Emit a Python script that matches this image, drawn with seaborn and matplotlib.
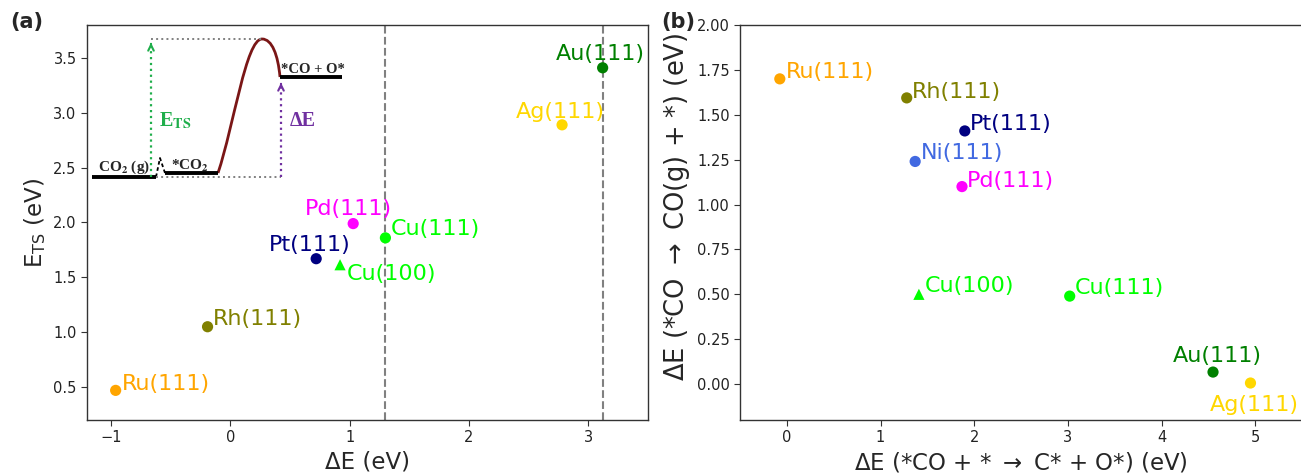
import numpy as np
import pandas as pd
import matplotlib
matplotlib.use("Agg")
import matplotlib.pyplot as plt
import seaborn as sns
from matplotlib.path import Path
from matplotlib.patches import PathPatch

# ---------------- data ----------------
# panel (a): E_TS vs reaction energy dE
a_surfaces = ["Ru(111)", "Rh(111)", "Pt(111)", "Cu(100)", "Pd(111)", "Cu(111)", "Ag(111)", "Au(111)"]
a_facets = ["111", "111", "111", "100", "111", "111", "111", "111"]
a_dE = [-0.96, -0.19, 0.72, 0.92, 1.03, 1.30, 2.78, 3.12]
a_ETS = [0.47, 1.05, 1.67, 1.615, 1.99, 1.86, 2.89, 3.41]
a_vlines = [1.30, 3.12]

# panel (b): CO desorption vs CO dissociation energy
b_surfaces = ["Ru(111)", "Rh(111)", "Pt(111)", "Ni(111)", "Pd(111)", "Cu(100)", "Cu(111)", "Au(111)", "Ag(111)"]
b_facets = ["111", "111", "111", "111", "111", "100", "111", "111", "111"]
b_dE_diss = [-0.075, 1.28, 1.90, 1.37, 1.87, 1.41, 3.02, 4.55, 4.95]
b_dE_des = [1.70, 1.594, 1.41, 1.24, 1.10, 0.50, 0.49, 0.067, 0.006]

a_xticks = [-1, 0, 1, 2, 3]
a_yticks = [0.5, 1.0, 1.5, 2.0, 2.5, 3.0, 3.5]
b_xticks = [0, 1, 2, 3, 4, 5]
b_yticks = [0.00, 0.25, 0.50, 0.75, 1.00, 1.25, 1.50, 1.75, 2.00]

# ---------------- styles ----------------
colors = {
    "Ru(111)": "#FFA500", "Rh(111)": "#808000", "Pt(111)": "#000080",
    "Pd(111)": "#FF00FF", "Cu(111)": "#00FF00", "Cu(100)": "#00FF00",
    "Ag(111)": "#FFD700", "Au(111)": "#008000", "Ni(111)": "#4169E1",
}
markers = {"111": "o", "100": "^"}
# label offsets in pixels (dx, dy)
a_offsets = {
    "Ru(111)": (6, 0), "Rh(111)": (5, 2), "Pt(111)": (-47, 8), "Cu(100)": (7, -15),
    "Pd(111)": (-48, 9), "Cu(111)": (5, 3), "Ag(111)": (-46, 7), "Au(111)": (-47, 8),
}
b_offsets = {
    "Ru(111)": (6, 1), "Rh(111)": (5, 0), "Pt(111)": (5, 1), "Ni(111)": (6, 2),
    "Pd(111)": (5, 0), "Cu(100)": (6, 2), "Cu(111)": (5, 2), "Au(111)": (-40, 10),
    "Ag(111)": (-41, -28),
}

sns.set_style("ticks")
plt.rcParams["font.family"] = ["DejaVu Sans"]
plt.rcParams["axes.edgecolor"] = "#333333"
plt.rcParams["axes.linewidth"] = 1.0

W, H = 1301, 473
fig = plt.figure(figsize=(W / 100, H / 100), dpi=100)

ax1 = fig.add_axes([87 / W, 53 / H, (648 - 87) / W, 395 / H])
ax2 = fig.add_axes([740 / W, 53 / H, (1302 - 740) / W, 395 / H])

dfa = pd.DataFrame({"dE": a_dE, "ETS": a_ETS, "surface": a_surfaces, "facet": a_facets})
dfb = pd.DataFrame({"x": b_dE_diss, "y": b_dE_des, "surface": b_surfaces, "facet": b_facets})

for vx in a_vlines:
    ax1.axvline(vx, color="gray", ls="--", lw=1.5, zorder=1)

sns.scatterplot(data=dfa, x="dE", y="ETS", hue="surface", palette=colors, style="facet",
                markers=markers, s=65, linewidth=0, legend=False, ax=ax1, zorder=3)
sns.scatterplot(data=dfb, x="x", y="y", hue="surface", palette=colors, style="facet",
                markers=markers, s=65, linewidth=0, legend=False, ax=ax2, zorder=3)

for s, x, y in zip(a_surfaces, a_dE, a_ETS):
    ax1.annotate(s, (x, y), xytext=a_offsets[s], textcoords="offset pixels",
                 ha="left", va="baseline", color=colors[s], fontsize=16)
for s, x, y in zip(b_surfaces, b_dE_diss, b_dE_des):
    ax2.annotate(s, (x, y), xytext=b_offsets[s], textcoords="offset pixels",
                 ha="left", va="baseline", color=colors[s], fontsize=16, annotation_clip=False)

ax1.set_xlim(-1.2, 3.5)
ax1.set_ylim(0.2, 3.8)
ax1.set_xticks(a_xticks)
ax1.set_yticks(a_yticks)
ax1.set_xlabel("ΔE (eV)", fontsize=16.5)
ax1.set_ylabel(r"E$_{\mathrm{TS}}$ (eV)", fontsize=16.5)

ax2.set_xlim(-0.5, 5.5)
ax2.set_ylim(-0.2, 2.0)
ax2.set_xticks(b_xticks)
ax2.set_yticks(b_yticks)
ax2.set_xlabel(r"ΔE (*CO + * $\rightarrow$ C* + O*) (eV)", fontsize=16.5)
ax2.set_ylabel(r"ΔE (*CO $\rightarrow$ CO(g) + *) (eV)", fontsize=18.5)
ax2.yaxis.set_label_coords(-0.085, 0.54)

for ax in (ax1, ax2):
    ax.tick_params(labelsize=10.5, length=4, color="#333333", labelcolor="#222222")
    for sp in ax.spines.values():
        sp.set_visible(True)

fig.text(10 / W, 1 - 28 / H, "(a)", fontsize=15, fontweight="bold", va="baseline")
fig.text(661 / W, 1 - 28 / H, "(b)", fontsize=15, fontweight="bold", va="baseline")

# ---------------- inset energy diagram (figure-pixel coordinates) ----------------
ins = fig.add_axes([0, 0, 1, 1], zorder=5)
ins.set_xlim(0, W)
ins.set_ylim(H, 0)
ins.axis("off")
ins.patch.set_alpha(0)

diag_levels = [(92, 156, 177), (165, 218, 173), (280, 342, 77)]
diag_bump_x = [156, 160, 165]
diag_bump_y = [177, 158, 173]
diag_red_verts = [(218, 173), (234, 125), (246, 39), (262, 39), (272, 39), (278, 55), (280, 77)]
diag_top_x, diag_top_y = [151, 262], [39, 39]
diag_bot_x, diag_bot_y = [156, 281], [177, 177]
ets_arrow = (151, 177, 40)
de_arrow = (281, 177, 80)
green_c = "#1fae4b"
purple_c = "#7030a0"
red_c = "#7a1616"

for x0, x1, y in diag_levels:
    ins.plot([x0, x1], [y, y], color="black", lw=2.8, solid_capstyle="butt")
ins.plot(diag_bump_x, diag_bump_y, color="black", lw=1.3, ls=(0, (2, 1.5)))
path = Path(diag_red_verts, [Path.MOVETO] + [Path.CURVE4] * 6)
ins.add_patch(PathPatch(path, fc="none", ec=red_c, lw=2))
ins.plot(diag_top_x, diag_top_y, color="gray", lw=1.4, ls=":")
ins.plot(diag_bot_x, diag_bot_y, color="gray", lw=1.4, ls=":")

for (ax_x, y0, y1), c in ((ets_arrow, green_c), (de_arrow, purple_c)):
    ins.plot([ax_x, ax_x], [y0, y1 + 3], color=c, lw=1.6, ls=":")
    ins.annotate("", xy=(ax_x, y1), xytext=(ax_x, y1 + 7),
                 arrowprops=dict(arrowstyle="->", color=c, lw=1.5, mutation_scale=10))

serif = "Liberation Serif"
ins.text(98, 171, r"CO$_\mathbf{2}$ (g)", fontsize=11, fontweight="bold", family=serif,
         math_fontfamily="stix", va="baseline")
ins.text(171, 170, r"*CO$_\mathbf{2}$", fontsize=11, fontweight="bold", family=serif,
         math_fontfamily="stix", va="baseline")
ins.text(281, 73, "*CO + O*", fontsize=10.5, fontweight="bold", family=serif, va="baseline")
ins.text(159, 126, r"E$_\mathbf{TS}$", fontsize=14.5, fontweight="bold", family=serif,
         math_fontfamily="stix", color=green_c, va="baseline")
ins.text(290, 126, "ΔE", fontsize=14.5, fontweight="bold", family=serif, color=purple_c, va="baseline")

fig.savefig("out.png", dpi=100)
